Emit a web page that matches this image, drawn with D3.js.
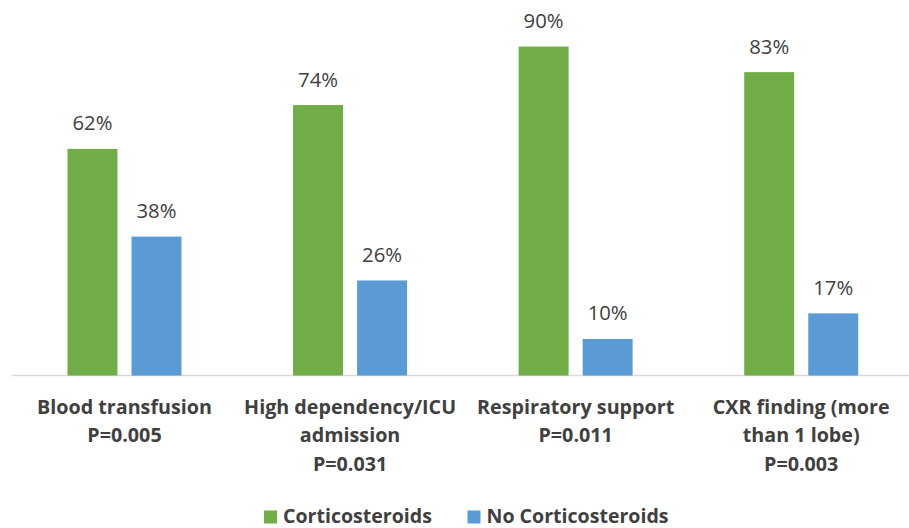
<!DOCTYPE html>
<html>
<head>
<meta charset="utf-8">
<script src="https://cdn.jsdelivr.net/npm/d3@7"></script>
<style>
  html, body { margin: 0; padding: 0; background: #fff; }
  svg { display: block; }
</style>
</head>
<body>
<svg id="chart" width="909" height="528"></svg>
<script>
const categories = [
  ["Blood transfusion", "P=0.005"],
  ["High dependency/ICU", "admission", "P=0.031"],
  ["Respiratory support", "P=0.011"],
  ["CXR finding (more", "than 1 lobe)", "P=0.003"]
];
const seriesNames = ["Corticosteroids", "No Corticosteroids"];
const corticosteroids = [62, 74, 90, 83];
const noCorticosteroids = [38, 26, 10, 17];
const seriesColors = ["#70AD47", "#5B9BD5"];

const FONT = "'Open Sans', 'Noto Sans', sans-serif";
const textColor = "#404040";

const svg = d3.select("#chart");
const keys = categories.map((c, i) => "c" + i);
const values = [corticosteroids, noCorticosteroids];

const x0 = d3.scaleBand().domain(keys).range([11.7, 914]).padding(0);
const x1 = d3.scaleBand().domain(seriesNames).range([-57, 57]).paddingInner(0.22).paddingOuter(0);
const y = d3.scaleLinear().domain([0, 100]).range([375.5, 10]);

function fitSize(text, weight, targetW) {
  const t = svg.append("text").attr("font-family", FONT).attr("font-weight", weight)
    .attr("font-size", 20).text(text);
  const w = t.node().getComputedTextLength();
  t.remove();
  return 20 * targetW / w;
}
const catSize = fitSize("Blood transfusion", "bold", 175);
const valSize = fitSize("62%", "normal", 40);
const legSize = fitSize("Corticosteroids", "bold", 149);

svg.append("line")
  .attr("x1", 11.7).attr("x2", 909)
  .attr("y1", y(0)).attr("y2", y(0))
  .attr("stroke", "#d9d9d9").attr("stroke-width", 1.3);

const groups = svg.append("g").selectAll("g").data(keys).join("g")
  .attr("transform", k => `translate(${x0(k) + x0.bandwidth() / 2},0)`);

groups.each(function (k, i) {
  const g = d3.select(this);
  seriesNames.forEach((s, si) => {
    const v = values[si][i];
    g.append("rect")
      .attr("x", x1(s)).attr("width", x1.bandwidth())
      .attr("y", y(v)).attr("height", y(0) - y(v))
      .attr("fill", seriesColors[si]);
    g.append("text")
      .attr("x", x1(s) + x1.bandwidth() / 2)
      .attr("y", y(v) - 18.5)
      .attr("text-anchor", "middle")
      .attr("font-family", FONT).attr("font-size", valSize)
      .attr("fill", textColor)
      .text(v + "%");
  });
  const t = g.append("text")
    .attr("text-anchor", "middle")
    .attr("font-family", FONT).attr("font-weight", "bold")
    .attr("font-size", catSize).attr("fill", textColor);
  categories[i].forEach((line, li) => {
    t.append("tspan").attr("x", 0).attr("y", 413.5 + li * 28.8).text(line);
  });
});

const legend = [
  { name: seriesNames[0], color: seriesColors[0], x: 264 },
  { name: seriesNames[1], color: seriesColors[1], x: 467.5 }
];
legend.forEach(l => {
  svg.append("rect").attr("x", l.x).attr("y", 510.5).attr("width", 13).attr("height", 13).attr("fill", l.color);
  svg.append("text").attr("x", l.x + 19).attr("y", 523)
    .attr("font-family", FONT).attr("font-weight", "bold")
    .attr("font-size", legSize).attr("fill", textColor).text(l.name);
});
</script>
</body>
</html>
